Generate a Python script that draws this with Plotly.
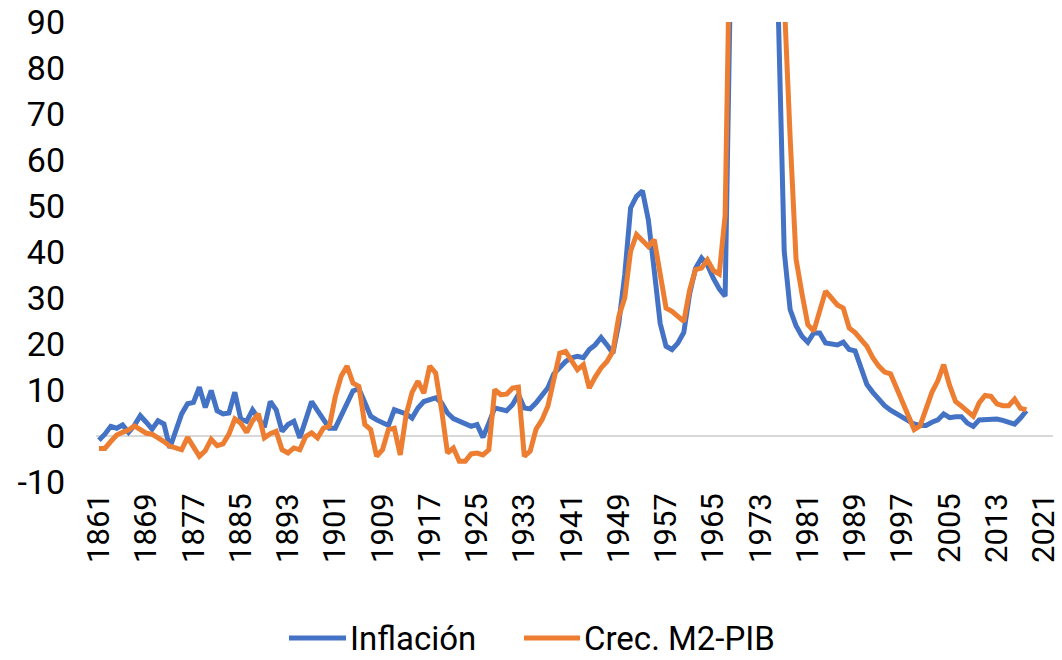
import plotly.graph_objects as go

years = list(range(1861, 2019))

inflacion = [
    -0.9, 0.4, 2.1, 1.7, 2.4, 0.8, 2.3, 4.4, 3.0, 1.5,
    3.3, 2.6, -2.6, 1.5, 4.8, 7.0, 7.3, 10.6, 6.2, 9.9,
    5.5, 4.8, 5.0, 9.5, 3.7, 3.2, 5.7, 3.8, 1.9, 7.5,
    5.7, 1.0, 2.5, 3.2, -0.4, 3.5, 7.5, 5.5, 3.5, 1.7,
    1.7, 4.5, 7.3, 9.8, 10.3, 7.0, 4.3, 3.5, 2.8, 2.3,
    5.7, 5.3, 4.8, 3.9, 6.1, 7.5, 8.0, 8.3, 7.2, 5.0,
    3.8, 3.2, 2.8, 2.1, 2.5, -0.3, 2.8, 6.1, 5.8, 5.5,
    6.8, 9.0, 6.1, 5.9, 7.2, 9.0, 10.5, 13.5, 15.0, 16.2,
    17.0, 17.3, 17.0, 18.8, 19.8, 21.4, 19.8, 18.0, 24.5, 35.0,
    49.6, 52.1, 53.3, 47.0, 36.0, 24.5, 19.5, 18.8, 20.2, 22.5,
    31.0, 36.5, 38.7, 37.2, 34.3, 32.0, 30.4, 105.0, 170.0, 260.0,
    350.0, 420.0, 380.0, 260.0, 160.0, 92.0, 40.2, 27.5, 24.0, 21.7,
    20.4, 22.4, 22.4, 20.2, 20.0, 19.8, 20.4, 18.8, 18.5, 14.5,
    11.2, 9.5, 8.0, 6.6, 5.6, 4.8, 4.0, 3.2, 2.6, 2.3,
    2.3, 3.0, 3.5, 4.8, 4.0, 4.2, 4.2, 2.8, 2.1, 3.5,
    3.5, 3.6, 3.7, 3.4, 3.0, 2.6, 3.9, 5.5,
]

crec_m2_pib = [
    -2.7, -2.7, -1.2, 0.2, 0.8, 1.3, 2.2, 1.5, 0.6, 0.4,
    -0.3, -1.2, -2.2, -2.6, -3.0, -0.3, -2.5, -4.4, -3.2, -0.7,
    -2.1, -1.7, 0.4, 3.7, 2.8, 0.8, 3.3, 4.8, -0.4, 0.5,
    1.0, -3.0, -3.7, -2.6, -3.0, -0.1, 0.7, -0.4, 1.7, 2.1,
    8.5, 13.0, 15.2, 11.5, 10.8, 2.5, 1.4, -4.4, -3.0, 1.4,
    1.7, -4.1, 4.6, 9.5, 11.9, 9.3, 15.2, 13.7, 5.7, -3.7,
    -2.6, -5.5, -5.5, -3.9, -3.7, -4.1, -3.0, 10.1, 9.0, 9.1,
    10.4, 10.6, -4.4, -3.3, 1.5, 3.5, 6.5, 12.0, 18.0, 18.4,
    16.2, 14.4, 15.5, 10.4, 12.8, 14.8, 16.2, 18.4, 26.0, 30.0,
    40.2, 43.8, 42.5, 41.2, 42.7, 35.1, 27.8, 27.1, 26.0, 24.9,
    31.8, 36.2, 36.5, 38.3, 36.0, 35.2, 48.0, 100.0, 190.0, 280.0,
    380.0, 430.0, 380.0, 300.0, 200.0, 140.0, 95.0, 65.0, 38.5, 31.0,
    24.2, 22.8, 27.0, 31.5, 30.0, 28.5, 27.8, 23.5, 22.5, 20.8,
    19.5, 17.0, 15.2, 13.9, 13.5, 10.5, 7.5, 5.0, 1.4, 2.2,
    6.0, 9.5, 12.0, 15.5, 11.0, 7.5, 6.5, 5.5, 4.3, 7.2,
    8.8, 8.6, 7.0, 6.6, 6.6, 8.0, 6.0, 5.7,
]

tick_years = list(range(1861, 2022, 8))
y_ticks = list(range(-10, 91, 10))
y_tick_labels = [str(v) for v in y_ticks]  # plain hyphen for "-10"

series_names = ["Inflación", "Crec. M2-PIB"]
colors = ["#4472C4", "#ED7D31"]

FONT = "Roboto"

fig = go.Figure()
for name, vals, col in zip(series_names, [inflacion, crec_m2_pib], colors):
    fig.add_trace(go.Scatter(
        x=years, y=vals, mode="lines", name=name,
        line=dict(color=col, width=5),
        showlegend=False, hoverinfo="skip",
    ))

# manual legend (bottom centre)
L, T, W, H = 96, 22, 957, 460
leg_py = 638
leg_y = -(leg_py - (T + H)) / H
legend_items = [
    (series_names[0], colors[0], 289, 346, 349),
    (series_names[1], colors[1], 524, 580, 583),
]
for name, col, x0, x1, xt in legend_items:
    fig.add_shape(type="line", xref="paper", yref="paper",
                  x0=(x0 - L) / W, x1=(x1 - L) / W, y0=leg_y, y1=leg_y,
                  line=dict(color=col, width=5))
    fig.add_annotation(text=name, xref="paper", yref="paper",
                       x=(xt - L) / W, y=leg_y, xanchor="left", yanchor="middle",
                       showarrow=False, borderpad=0,
                       font=dict(family=FONT, size=33, color="#000000"))

fig.update_layout(
    width=1062, height=660,
    margin=dict(l=L, r=1062 - L - W, t=T, b=660 - T - H, autoexpand=False),
    paper_bgcolor="white", plot_bgcolor="white",
    font=dict(family=FONT, color="#000000"),
    xaxis=dict(
        range=[1860.5, 2022.5], tickmode="array", tickvals=tick_years,
        ticktext=[str(t) for t in tick_years], tickangle=-90,
        showgrid=False, zeroline=False, showline=False, ticks="",
        automargin=False, ticklabelstandoff=4, ticklabeloverflow="allow",
        tickfont=dict(family=FONT, size=31, color="#000000"),
    ),
    yaxis=dict(
        range=[-10, 90], tickmode="array", tickvals=y_ticks, ticktext=y_tick_labels,
        showgrid=False, zeroline=True, zerolinecolor="#D9D9D9", zerolinewidth=1.5,
        showline=False, ticks="", ticklabelstandoff=30, automargin=False,
        ticklabeloverflow="allow",
        tickfont=dict(family=FONT, size=34, color="#000000"),
    ),
)

fig.write_html(
    "out.html",
    config={"displayModeBar": False, "staticPlot": True},
    post_script="document.body.style.margin='0';document.body.style.overflow='hidden';",
)
